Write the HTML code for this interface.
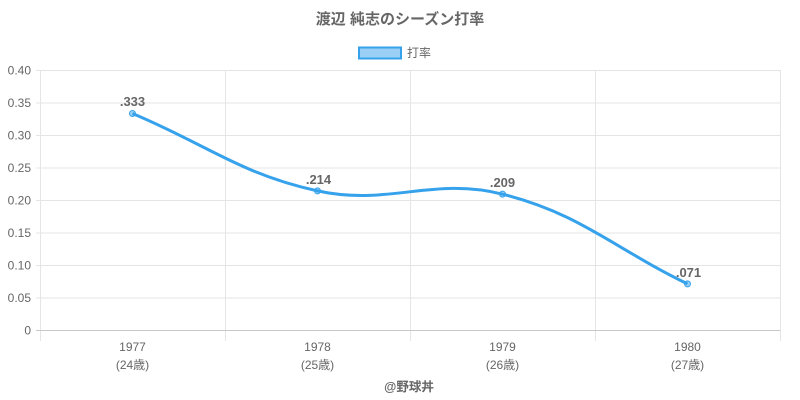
<!DOCTYPE html>
<html><head><meta charset="utf-8"><style>
html,body{margin:0;padding:0;background:#fff;}
svg{display:block;font-family:"Liberation Sans","Noto Sans CJK JP",sans-serif;}
</style></head><body>
<svg width="800" height="400" viewBox="0 0 800 400" xmlns="http://www.w3.org/2000/svg">
<rect width="800" height="400" fill="#fff"/>
<text x="400" y="24" text-anchor="middle" font-size="15" font-weight="bold" fill="#666">渡辺 純志のシーズン打率</text>
<rect x="359" y="47.5" width="42" height="11" fill="rgba(54,162,235,0.5)" stroke="#36a2eb" stroke-width="2"/>
<text x="407" y="57" font-size="12" fill="#666">打率</text>
<g stroke="#e5e5e5" stroke-width="1">
<line x1="36" y1="70.5" x2="780" y2="70.5"/>
<line x1="36" y1="103" x2="780" y2="103"/>
<line x1="36" y1="135.5" x2="780" y2="135.5"/>
<line x1="36" y1="168" x2="780" y2="168"/>
<line x1="36" y1="200.5" x2="780" y2="200.5"/>
<line x1="36" y1="233" x2="780" y2="233"/>
<line x1="36" y1="265.5" x2="780" y2="265.5"/>
<line x1="36" y1="298" x2="780" y2="298"/>
<line x1="40.5" y1="70" x2="40.5" y2="341"/>
<line x1="225.5" y1="70" x2="225.5" y2="341"/>
<line x1="410.5" y1="70" x2="410.5" y2="341"/>
<line x1="595.5" y1="70" x2="595.5" y2="341"/>
<line x1="780.5" y1="70" x2="780.5" y2="341"/>
</g>
<line x1="36" y1="330.5" x2="780" y2="330.5" stroke="#c8c8c8" stroke-width="1"/>
<g font-size="12" fill="#666" text-anchor="end">
<text x="31" y="74.5">0.40</text>
<text x="31" y="107">0.35</text>
<text x="31" y="139.5">0.30</text>
<text x="31" y="172">0.25</text>
<text x="31" y="204.5">0.20</text>
<text x="31" y="237">0.15</text>
<text x="31" y="269.5">0.10</text>
<text x="31" y="302">0.05</text>
<text x="31" y="334.5">0</text>
</g>
<g font-size="12" fill="#666" text-anchor="middle">
<text x="132.5" y="351">1977</text><text x="132.5" y="369">(24歳)</text>
<text x="317.5" y="351">1978</text><text x="317.5" y="369">(25歳)</text>
<text x="502.5" y="351">1979</text><text x="502.5" y="369">(26歳)</text>
<text x="687.5" y="351">1980</text><text x="687.5" y="369">(27歳)</text>
</g>
<text x="409" y="391" text-anchor="middle" font-size="12.5" font-weight="bold" fill="#666">@野球丼</text>
<path d="M132.5,113.5 C206.5,144.46 240.53,174.12 317.5,190.9 C388.53,206.38 432.4,176.54 502.5,194.15 C580.4,213.72 613.5,247.97 687.5,283.85" fill="none" stroke="#36a2eb" stroke-width="3"/>
<g fill="rgba(54,162,235,0.5)" stroke="#36a2eb" stroke-width="1">
<circle cx="132.5" cy="113.5" r="3"/>
<circle cx="317.5" cy="190.9" r="3"/>
<circle cx="502.5" cy="194.15" r="3"/>
<circle cx="687.5" cy="283.85" r="3"/>
</g>
<g font-size="13" font-weight="bold" fill="#666" text-anchor="middle">
<text x="132.5" y="106">.333</text>
<text x="318.5" y="184">.214</text>
<text x="502.5" y="187">.209</text>
<text x="688.5" y="277">.071</text>
</g>
</svg>
</body></html>
